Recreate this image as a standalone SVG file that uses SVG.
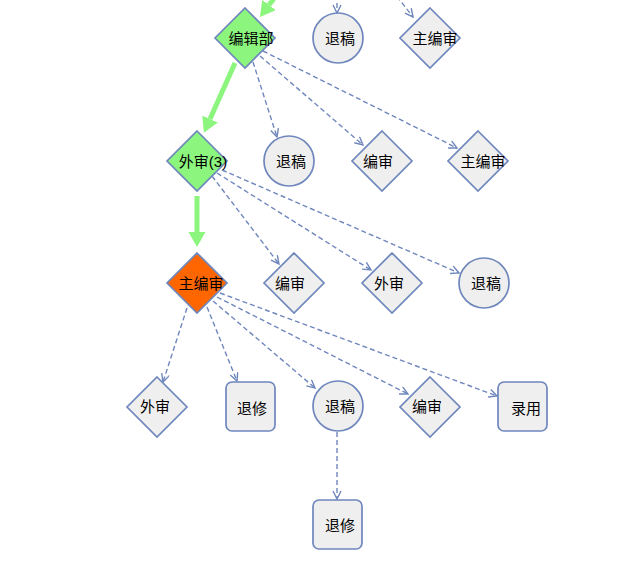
<svg xmlns="http://www.w3.org/2000/svg" width="644" height="577" viewBox="0 0 644 577">
<defs>
<style>
.n{fill:#EFEFEF;stroke:#6F87BD;stroke-width:1.7}
.g{fill:#8CF57E;stroke:#6F87BD;stroke-width:1.7}
.o{fill:#FF6600;stroke:#6F87BD;stroke-width:1.7}
.t{font-family:"Liberation Sans","Noto Sans CJK SC",sans-serif;font-size:15px;fill:#000;text-anchor:middle;dominant-baseline:central}
.d{stroke:#6F87BD;stroke-width:1.4;stroke-dasharray:5,3;fill:none;marker-end:url(#ah)}
.gl{stroke:#8CF57E;stroke-width:5;fill:none;marker-end:url(#gh)}
</style>
<marker id="ah" markerUnits="userSpaceOnUse" markerWidth="12" markerHeight="12" refX="9" refY="4.5" orient="auto" viewBox="0 0 12 12">
<path d="M1,0.5 L9,4.5 L1,8.5" fill="none" stroke="#6F87BD" stroke-width="1.4"/>
</marker>
<marker id="gh" markerUnits="userSpaceOnUse" markerWidth="16" markerHeight="18" refX="0" refY="8.5" orient="auto" viewBox="0 0 16 18">
<path d="M0,0 L15,8.5 L0,17 z" fill="#8CF57E"/>
</marker>
</defs>
<rect width="644" height="577" fill="#FFFFFF"/>
<g id="connectors">
<line class="gl" x1="285" y1="-16" x2="269" y2="5"/>
<line class="gl" x1="235" y1="63" x2="210" y2="119"/>
<line class="gl" x1="197" y1="196" x2="197" y2="232"/>
<line class="d" x1="337" y1="-5" x2="337" y2="13"/>
<line class="d" x1="392" y1="-10" x2="413" y2="17"/>
<line class="d" x1="253" y1="62" x2="277" y2="137"/>
<line class="d" x1="260" y1="56" x2="363" y2="145"/>
<line class="d" x1="263" y1="51" x2="457" y2="148"/>
<line class="d" x1="212" y1="176" x2="279" y2="264"/>
<line class="d" x1="217" y1="173" x2="371" y2="270"/>
<line class="d" x1="222" y1="170" x2="459" y2="273"/>
<line class="d" x1="187" y1="308" x2="163" y2="382"/>
<line class="d" x1="207" y1="307" x2="237" y2="381"/>
<line class="d" x1="213" y1="301" x2="315" y2="388"/>
<line class="d" x1="217" y1="297" x2="408" y2="394"/>
<line class="d" x1="220" y1="293" x2="497" y2="396"/>
<line class="d" x1="337" y1="432" x2="337" y2="499"/>
</g>
<g id="n1"><path class="g" d="M245,8 L275,38 L245,68 L215,38 Z"/><text class="t" x="251" y="38">编辑部</text></g>
<g id="n2"><circle class="n" cx="338" cy="38" r="25"/><text class="t" x="340" y="38">退稿</text></g>
<g id="n3"><path class="n" d="M430,8 L460,38 L430,68 L400,38 Z"/><text class="t" x="435" y="38">主编审</text></g>
<g id="n4"><path class="g" d="M197,131 L227,161 L197,191 L167,161 Z"/><text class="t" x="203" y="161">外审(3)</text></g>
<g id="n5"><circle class="n" cx="289" cy="161" r="25"/><text class="t" x="291" y="161">退稿</text></g>
<g id="n6"><path class="n" d="M382,131 L412,161 L382,191 L352,161 Z"/><text class="t" x="378" y="161">编审</text></g>
<g id="n7"><path class="n" d="M478,131 L508,161 L478,191 L448,161 Z"/><text class="t" x="483" y="161">主编审</text></g>
<g id="n8"><path class="o" d="M197,253 L227,283 L197,313 L167,283 Z"/><text class="t" x="201" y="283">主编审</text></g>
<g id="n9"><path class="n" d="M294,253 L324,283 L294,313 L264,283 Z"/><text class="t" x="290" y="283">编审</text></g>
<g id="n10"><path class="n" d="M392,253 L422,283 L392,313 L362,283 Z"/><text class="t" x="389" y="283">外审</text></g>
<g id="n11"><circle class="n" cx="484" cy="283" r="25"/><text class="t" x="486" y="283">退稿</text></g>
<g id="n12"><path class="n" d="M157,377 L187,407 L157,437 L127,407 Z"/><text class="t" x="155" y="406">外审</text></g>
<g id="n13"><rect class="n" x="226" y="382" width="49" height="49" rx="6"/><text class="t" x="252" y="408">退修</text></g>
<g id="n14"><circle class="n" cx="338" cy="406" r="25"/><text class="t" x="340" y="406">退稿</text></g>
<g id="n15"><path class="n" d="M430,377 L460,407 L430,437 L400,407 Z"/><text class="t" x="427" y="406">编审</text></g>
<g id="n16"><rect class="n" x="498" y="382" width="49" height="49" rx="6"/><text class="t" x="526" y="408">录用</text></g>
<g id="n17"><rect class="n" x="313" y="500" width="49" height="49" rx="6"/><text class="t" x="340" y="525">退修</text></g>
</svg>
